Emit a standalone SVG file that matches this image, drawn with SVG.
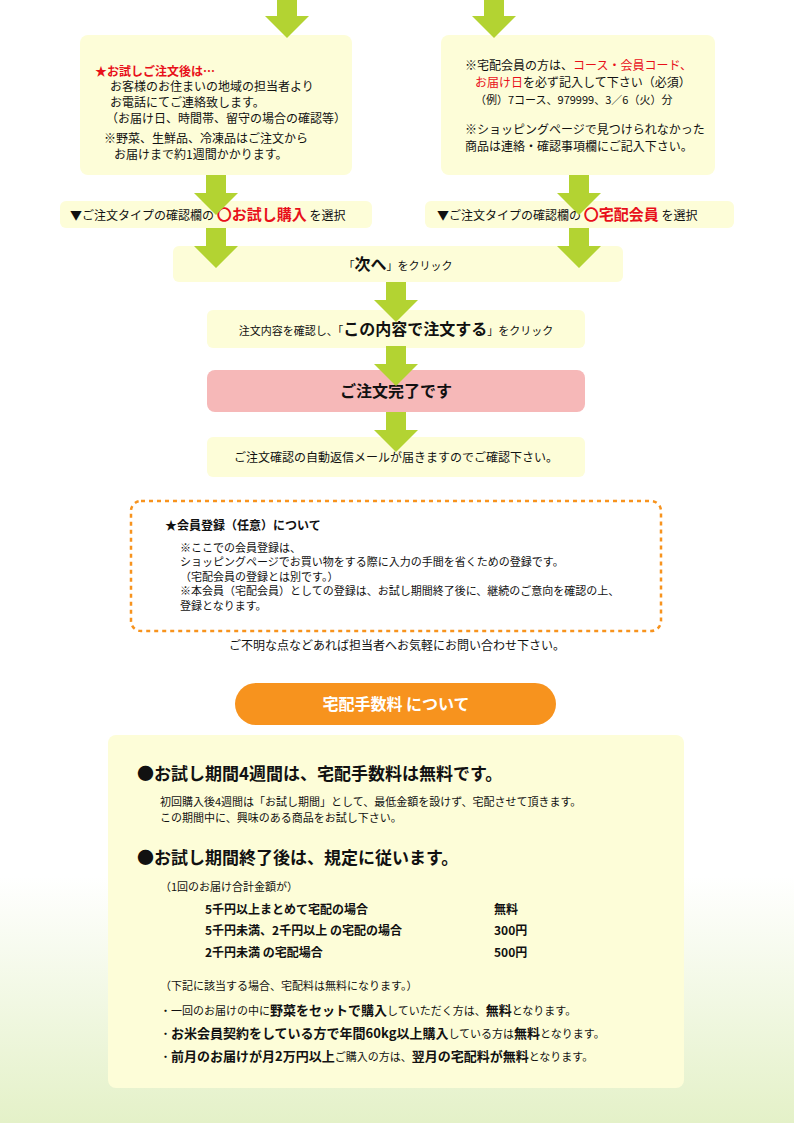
<svg xmlns="http://www.w3.org/2000/svg" width="794" height="1123" viewBox="0 0 794 1123">
<style>
text{font-family:"Noto Sans CJK JP","Noto Sans CJK SC",sans-serif;fill:#111}
.s{font-size:11px}.m{font-size:12px}.b{font-weight:bold}.r{fill:#e8101a}
.box{fill:#fdfdd8}
.arr{fill:#b3d332}
</style>
<defs>
<linearGradient id="bg" x1="0" y1="0" x2="0" y2="1">
<stop offset="0.78" stop-color="#fff"/><stop offset="1" stop-color="#e4f1c8"/>
</linearGradient>
<path id="a" d="M-10 0H10V18H22L0 40L-22 18H-10Z"/>
</defs>
<rect width="794" height="1123" fill="url(#bg)"/>
<g id="boxL"><rect class="box" x="80" y="35" width="272" height="140" rx="8"/>
<text class="m b r" x="95" y="76">★お試しご注文後は…</text>
<text class="m" x="110" y="91">お客様のお住まいの地域の担当者より</text>
<text class="m" x="110" y="107">お電話にてご連絡致します。</text>
<text class="m" x="106" y="123">（お届け日、時間帯、留守の場合の確認等）</text>
<text class="m" x="104" y="143">※野菜、生鮮品、冷凍品はご注文から</text>
<text class="m" x="114" y="159">お届けまで約1週間かかります。</text></g>
<g id="boxR"><rect class="box" x="441" y="35" width="274" height="140" rx="8"/>
<text class="m" x="465" y="70">※宅配会員の方は、<tspan class="r">コース・会員コード、</tspan></text>
<text class="m" x="475" y="87"><tspan class="r">お届け日</tspan>を必ず記入して下さい（必須）</text>
<text class="s" x="475" y="104">（例）7コース、979999、3／6（火）分</text>
<text class="m" x="465" y="134">※ショッピングページで見つけられなかった</text>
<text class="m" x="465" y="151">商品は連絡・確認事項欄にご記入下さい。</text></g>
<g id="selL"><rect class="box" x="60" y="201" width="312" height="27" rx="6"/>
<text class="m" x="70" y="220">▼ご注文タイプの確認欄の <tspan class="r b" font-size="15">〇お試し購入</tspan> を選択</text></g>
<g id="selR"><rect class="box" x="425" y="201" width="309" height="27" rx="6"/>
<text class="m" x="437" y="220">▼ご注文タイプの確認欄の <tspan class="r b" font-size="15">〇宅配会員</tspan> を選択</text></g>
<g id="next"><rect class="box" x="173" y="246" width="450" height="36" rx="6"/>
<text class="s" x="398" y="270" text-anchor="middle">「<tspan class="b" font-size="16">次へ</tspan>」をクリック</text></g>
<g id="confirm"><rect class="box" x="207" y="310" width="378" height="38" rx="6"/>
<text class="s" x="396" y="335" text-anchor="middle">注文内容を確認し、「<tspan class="b" font-size="16">この内容で注文する</tspan>」をクリック</text></g>
<g id="done"><rect x="207" y="370" width="378" height="42" rx="8" fill="#f6b8b8"/>
<text class="b" font-size="16" x="396" y="397" text-anchor="middle">ご注文完了です</text></g>
<g id="mail"><rect class="box" x="207" y="437" width="378" height="40" rx="6"/>
<text class="m" x="396" y="462" text-anchor="middle">ご注文確認の自動返信メールが届きますのでご確認下さい。</text></g>
<g id="connectors" class="arr">
<use href="#a" x="287" y="-2"/>
<use href="#a" x="494" y="-2"/>
<use href="#a" x="216" y="175"/>
<use href="#a" x="579" y="175"/>
<use href="#a" x="216" y="228"/>
<use href="#a" x="579" y="228"/>
<use href="#a" x="396" y="282"/>
<use href="#a" x="396" y="346"/>
<use href="#a" x="396" y="412"/>
</g>
<g id="member"><rect x="131" y="501" width="530" height="130" rx="10" fill="#fff" stroke="#f7931e" stroke-width="2.5" stroke-dasharray="4 4"/>
<text class="m b" font-size="14" x="165" y="530">★会員登録（任意）について</text>
<text class="s" x="180" y="552">※ここでの会員登録は、</text>
<text class="s" x="180" y="566">ショッピングページでお買い物をする際に入力の手間を省くための登録です。</text>
<text class="s" x="180" y="581">（宅配会員の登録とは別です。）</text>
<text class="s" x="180" y="595">※本会員（宅配会員）としての登録は、お試し期間終了後に、継続のご意向を確認の上、</text>
<text class="s" x="180" y="610">登録となります。</text></g>
<text class="m" x="397" y="650" text-anchor="middle">ご不明な点などあれば担当者へお気軽にお問い合わせ下さい。</text>
<g id="feeTitle"><rect x="235" y="683" width="321" height="42" rx="21" fill="#f7931e"/>
<text class="b" font-size="16" x="396" y="710" text-anchor="middle" style="fill:#fff">宅配手数料 について</text></g>
<g id="fee"><rect class="box" x="108" y="735" width="576" height="353" rx="8"/>
<text class="b" font-size="17" x="137" y="780">●お試し期間4週間は、宅配手数料は無料です。</text>
<text class="s" x="160" y="806">初回購入後4週間は「お試し期間」として、最低金額を設けず、宅配させて頂きます。</text>
<text class="s" x="160" y="822">この期間中に、興味のある商品をお試し下さい。</text>
<text class="b" font-size="17" x="137" y="864">●お試し期間終了後は、規定に従います。</text>
<text class="s" x="160" y="891">（1回のお届け合計金額が）</text>
<text class="m b" font-size="13" x="205" y="914">5千円以上まとめて宅配の場合</text>
<text class="m b" font-size="13" x="205" y="935">5千円未満、2千円以上 の宅配の場合</text>
<text class="m b" font-size="13" x="205" y="957">2千円未満 の宅配場合</text>
<text class="m b" font-size="13" x="494" y="914">無料</text>
<text class="m b" font-size="13" x="494" y="935">300円</text>
<text class="m b" font-size="13" x="494" y="957">500円</text>
<text class="s" x="160" y="990">（下記に該当する場合、宅配料は無料になります。）</text>
<text class="s" x="160" y="1015">・一回のお届けの中に<tspan class="b" font-size="13">野菜をセットで購入</tspan>していただく方は、<tspan class="b" font-size="13">無料</tspan>となります。</text>
<text class="s" x="160" y="1038">・<tspan class="b" font-size="13">お米会員契約をしている方で年間60kg以上購入</tspan>している方は<tspan class="b" font-size="13">無料</tspan>となります。</text>
<text class="s" x="160" y="1061">・<tspan class="b" font-size="13">前月のお届けが月2万円以上</tspan>ご購入の方は、<tspan class="b" font-size="13">翌月の宅配料が無料</tspan>となります。</text></g>
</svg>
